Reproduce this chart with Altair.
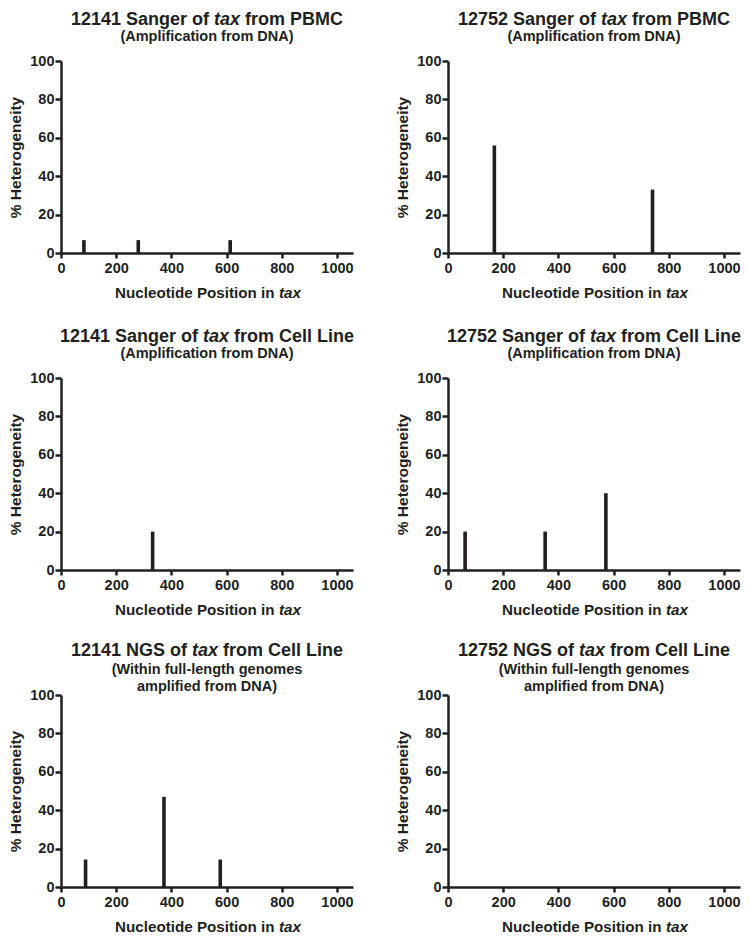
import altair as alt
import pandas as pd

# ---------------- data ----------------
pos_12141_pbmc = [83, 280, 613]
het_12141_pbmc = [6.7, 6.7, 6.7]
pos_12752_pbmc = [168, 741]
het_12752_pbmc = [56, 33]
pos_12141_cell = [332]
het_12141_cell = [20]
pos_12752_cell = [62, 352, 572]
het_12752_cell = [20, 20, 40]
pos_12141_ngs = [89, 373, 577]
het_12141_ngs = [14.3, 47, 14.3]
pos_12752_ngs = []
het_12752_ngs = []

title_pre = ["12141 Sanger of", "12752 Sanger of", "12141 Sanger of",
             "12752 Sanger of", "12141 NGS of", "12752 NGS of"]
title_post = ["from PBMC", "from PBMC", "from Cell Line",
              "from Cell Line", "from Cell Line", "from Cell Line"]
title_ital = "tax"
subtitles = [["(Amplification from DNA)"]] * 4 + \
            [["(Within full-length genomes", "amplified from DNA)"]] * 2
x_title_pre = "Nucleotide Position in"
y_title = "% Heterogeneity"
x_ticks = [0, 200, 400, 600, 800, 1000]
y_ticks = [0, 20, 40, 60, 80, 100]
x_max = 1058
y_max = 100

series = [
    (pos_12141_pbmc, het_12141_pbmc),
    (pos_12752_pbmc, het_12752_pbmc),
    (pos_12141_cell, het_12141_cell),
    (pos_12752_cell, het_12752_cell),
    (pos_12141_ngs, het_12141_ngs),
    (pos_12752_ngs, het_12752_ngs),
]

# ---------------- styling ----------------
FONT = "Liberation Sans, Arial, Helvetica, sans-serif"
INK = "#231f20"
W, H = 292, 192
TITLE_SIZE = 18
SUB_SIZE = 14.5
XTITLE_SIZE = 15.2

# Arial/Liberation Sans Bold advance widths (per 1000 em)
ADV = {" ": 278, "0": 556, "1": 556, "2": 556, "4": 556, "5": 556, "7": 556,
       "S": 667, "a": 556, "n": 611, "g": 611, "e": 556, "r": 389, "o": 611,
       "f": 333, "m": 889, "P": 667, "B": 722, "M": 833, "C": 722, "l": 278,
       "L": 611, "i": 278, "N": 722, "G": 778, "t": 333, "x": 556, "u": 611,
       "c": 556, "d": 611, "s": 556}


def tw(s, size):
    return sum(ADV.get(ch, 556) for ch in s) / 1000.0 * size


ONE = pd.DataFrame({"k": [0]})


def piece(text, x, y, size, italic=False, align="left"):
    return alt.Chart(ONE).mark_text(
        text=text, align=align, baseline="alphabetic", font=FONT,
        fontSize=size, fontWeight="bold",
        fontStyle="italic" if italic else "normal", color=INK,
    ).encode(x=alt.value(x), y=alt.value(y))


def mixed(pre, post, size, y, cx):
    sp = tw(" ", size)
    wpre, wit = tw(pre, size), tw(title_ital, size)
    wpost = tw(post, size) if post else 0
    total = wpre + sp + wit + ((sp + wpost) if post else 0)
    x0 = cx - total / 2
    out = [piece(pre, x0, y, size), piece(title_ital, x0 + wpre + sp, y, size, italic=True)]
    if post:
        out.append(piece(post, x0 + wpre + sp + wit + sp, y, size))
    return out


def panel(i):
    pos, het = series[i]
    rows = [{"pos": p, "het": h} for p, h in zip(pos, het)]
    rules = alt.Chart(alt.Data(values=rows)).mark_rule(
        strokeWidth=3.6, color=INK, strokeCap="butt"
    ).encode(
        x=alt.X("pos:Q", scale=alt.Scale(domain=[0, x_max], nice=False, zero=False),
                axis=alt.Axis(values=x_ticks, title=None, tickSize=5, labelPadding=3,
                              labelFlush=False, labelOverlap=False, format="d")),
        y=alt.Y("het:Q", scale=alt.Scale(domain=[0, y_max], nice=False),
                axis=alt.Axis(values=y_ticks, title=y_title, tickSize=6, labelPadding=1,
                              format="d", titleX=-41, titleY=H / 2, titleAngle=-90,
                              titleBaseline="alphabetic", titleAlign="center")),
        y2=alt.datum(0),
    )
    layers = [rules]
    subs = subtitles[i]
    if len(subs) == 1:
        layers += mixed(title_pre[i], title_post[i], TITLE_SIZE, -36, W / 2)
        layers.append(piece(subs[0], W / 2, -20, SUB_SIZE, align="center"))
    else:
        layers += mixed(title_pre[i], title_post[i], TITLE_SIZE, -39, W / 2)
        layers.append(piece(subs[0], W / 2, -21, SUB_SIZE, align="center"))
        layers.append(piece(subs[1], W / 2, -4, SUB_SIZE, align="center"))
    layers += mixed(x_title_pre, None, XTITLE_SIZE, H + 45, W / 2 + 1)
    return alt.layer(*layers).properties(width=W, height=H)


chart = alt.concat(
    *[panel(i) for i in range(6)],
    columns=2,
    spacing={"row": 125, "column": 95},
    bounds="flush",
).properties(
    padding={"top": 3, "left": 0, "right": 0, "bottom": 0}
).configure_view(
    stroke=None
).configure_axis(
    domainColor=INK, domainWidth=2.5, tickColor=INK, tickWidth=2.5,
    labelColor=INK, labelFont=FONT, labelFontSize=14.5, labelFontWeight="bold",
    titleColor=INK, titleFont=FONT, titleFontSize=15.5, titleFontWeight="bold",
    grid=False,
)

chart.save("out.html", embed_options={"renderer": "svg", "actions": False})
